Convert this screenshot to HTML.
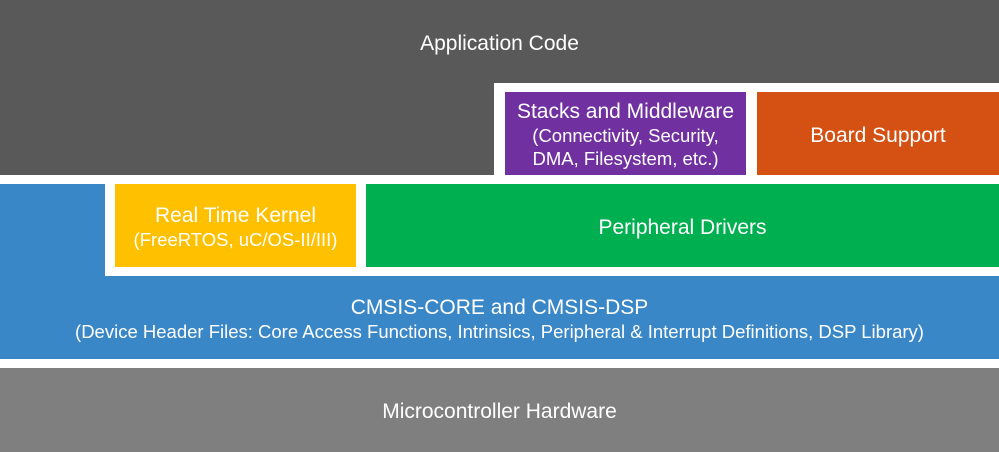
<!DOCTYPE html>
<html><head><style>
body{margin:0;width:999px;height:452px;position:relative;background:#fff;overflow:hidden;font-family:"Liberation Sans",sans-serif;color:#fff}
.b{position:absolute;display:flex;flex-direction:column;align-items:center;justify-content:center;text-align:center;line-height:23px;box-sizing:border-box;padding-top:4px}
.t{font-size:21px;line-height:24px}.s{font-size:18.5px;line-height:23px}
</style></head><body>
<div class="b" style="left:0;top:0;width:999px;height:83px;background:#595959"><span class="t">Application Code</span></div>
<div style="position:absolute;left:0;top:83px;width:494px;height:92px;background:#595959"></div>
<div class="b" style="left:505px;top:92px;width:241px;height:83px;background:#7030a0;padding-top:2px"><span class="t">Stacks and Middleware</span><span class="s">(Connectivity, Security,</span><span class="s">DMA, Filesystem, etc.)</span></div>
<div class="b" style="left:757px;top:92px;width:242px;height:83px;background:#d55013"><span class="t">Board Support</span></div>
<div style="position:absolute;left:0;top:184px;width:105px;height:92px;background:#3a87c8"></div>
<div class="b" style="left:115px;top:184px;width:241px;height:83px;background:#ffc000"><span class="t">Real Time Kernel</span><span class="s">(FreeRTOS, uC/OS-II/III)</span></div>
<div class="b" style="left:366px;top:184px;width:633px;height:83px;background:#00b050"><span class="t">Peripheral Drivers</span></div>
<div class="b" style="left:0;top:276px;width:999px;height:83px;background:#3a87c8"><span class="t">CMSIS-CORE and CMSIS-DSP</span><span class="s">(Device Header Files: Core Access Functions, Intrinsics, Peripheral &amp; Interrupt Definitions, DSP Library)</span></div>
<div class="b" style="left:0;top:368px;width:999px;height:84px;background:#7f7f7f"><span class="t">Microcontroller Hardware</span></div>
</body></html>
